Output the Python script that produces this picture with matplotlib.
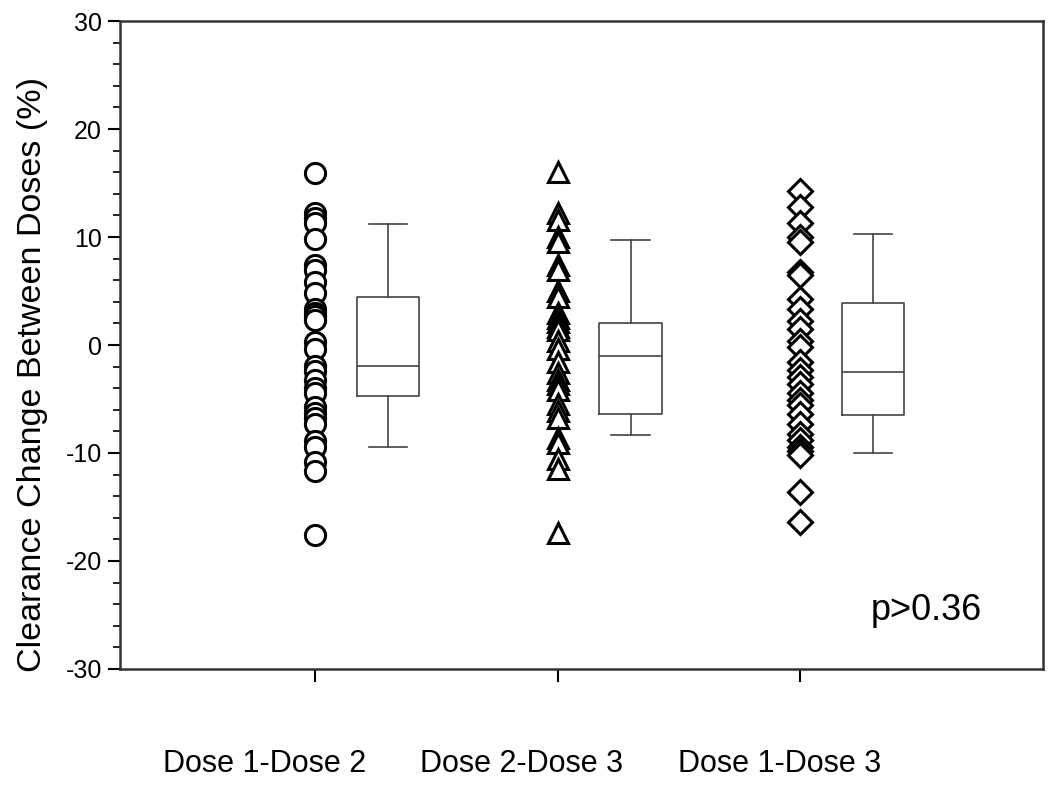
#!/usr/bin/env python3
import numpy as np
import matplotlib
matplotlib.use('Agg')
import matplotlib.pyplot as plt

plt.rcParams['font.family'] = ['Liberation Sans', 'DejaVu Sans']
plt.rcParams['axes.unicode_minus'] = False

# group labels
groups = ['Dose 1-Dose 2', 'Dose 2-Dose 3', 'Dose 1-Dose 3']

# individual clearance changes (%)
dose12 = [15.9, 12.2, 11.8, 11.3, 9.8, 7.4, 6.9, 5.8, 4.8, 3.3, 3.0, 2.7, 2.3,
          0.3, -0.4, -1.9, -2.4, -3.2, -4.0, -4.4, -5.7, -6.3, -6.8, -7.3,
          -8.9, -9.4, -10.8, -11.7, -17.6]
dose23 = [16.0, 12.2, 11.6, 10.0, 9.5, 7.4, 6.9, 5.0, 4.4, 3.0, 2.5, 2.1, 1.7,
          1.4, 0.4, -0.4, -1.6, -2.6, -3.2, -3.6, -4.2, -5.5, -6.1, -6.8,
          -8.6, -9.1, -10.6, -11.5, -17.4]
dose13 = [14.3, 12.8, 11.3, 10.0, 9.5, 6.8, 6.5, 4.3, 3.3, 2.2, 1.5, 0.4, -0.2,
          -1.6, -2.3, -3.0, -3.6, -4.4, -5.1, -5.6, -6.4, -7.3, -8.2, -8.8,
          -9.4, -9.8, -10.2, -13.6, -16.4]

# box summaries: whisker low, q1, median, q3, whisker high
whislo = [-9.4, -8.3, -10.0]
q1 = [-4.7, -6.4, -6.5]
med = [-1.9, -1.0, -2.5]
q3 = [4.4, 2.0, 3.9]
whishi = [11.2, 9.7, 10.3]

fig = plt.figure(figsize=(10.5, 7.85), dpi=100)
ax = fig.add_axes([0.1143, 0.1478, 0.879, 0.8254])

# scatter columns
pos = np.arange(1, 4)
ax.plot([pos[0]] * len(dose12), dose12, 'o', ms=14.5, mfc='white', mec='black',
        mew=2.2, ls='none')
ax.plot([pos[1]] * len(dose23), dose23, '^', ms=14, mfc='white', mec='black',
        mew=2.2, ls='none')
ax.plot([pos[2]] * len(dose13), dose13, 'D', ms=12, mfc='white', mec='black',
        mew=2.2, ls='none')

# box plots beside each column
stats = []
for i in range(3):
    stats.append(dict(med=med[i], q1=q1[i], q3=q3[i], whislo=whislo[i],
                      whishi=whishi[i], fliers=[]))
lp = dict(color='#444444', linewidth=1.2)
ax.bxp(stats, positions=pos + 0.3, widths=0.256, capwidths=0.157,
       showfliers=False, boxprops=lp, whiskerprops=lp, capprops=lp,
       medianprops=lp, manage_ticks=False)

ax.set_xlim(0.196, 4.0)
ax.set_ylim(-30, 30)
ax.set_xticks(pos)
ax.set_xticklabels([])
ax.set_yticks(np.arange(-30, 31, 10))
ax.set_yticks(np.arange(-30, 31, 2), minor=True)
ax.tick_params(axis='y', which='major', direction='out', length=9, width=1.5,
               labelsize=18, pad=4)
ax.tick_params(axis='y', which='minor', direction='out', length=5, width=1.2)
ax.tick_params(axis='x', which='major', direction='out', length=9, width=1.5)
for s in ax.spines.values():
    s.set_linewidth(1.8)
    s.set_color('#333333')

ax.set_ylabel('Clearance Change Between Doses (%)', fontsize=24.5)
ax.yaxis.set_label_coords(-0.078, 0.4545)

# category labels sit below the axis, shifted left of the ticks
label_x = [0.79, 1.85, 2.915]
for x, g in zip(label_x, groups):
    ax.text(x, -38.8, g, ha='center', va='center', fontsize=22)

ax.text(3.52, -24.6, 'p>0.36', ha='center', va='center', fontsize=26)

fig.savefig('out.png', dpi=100)
